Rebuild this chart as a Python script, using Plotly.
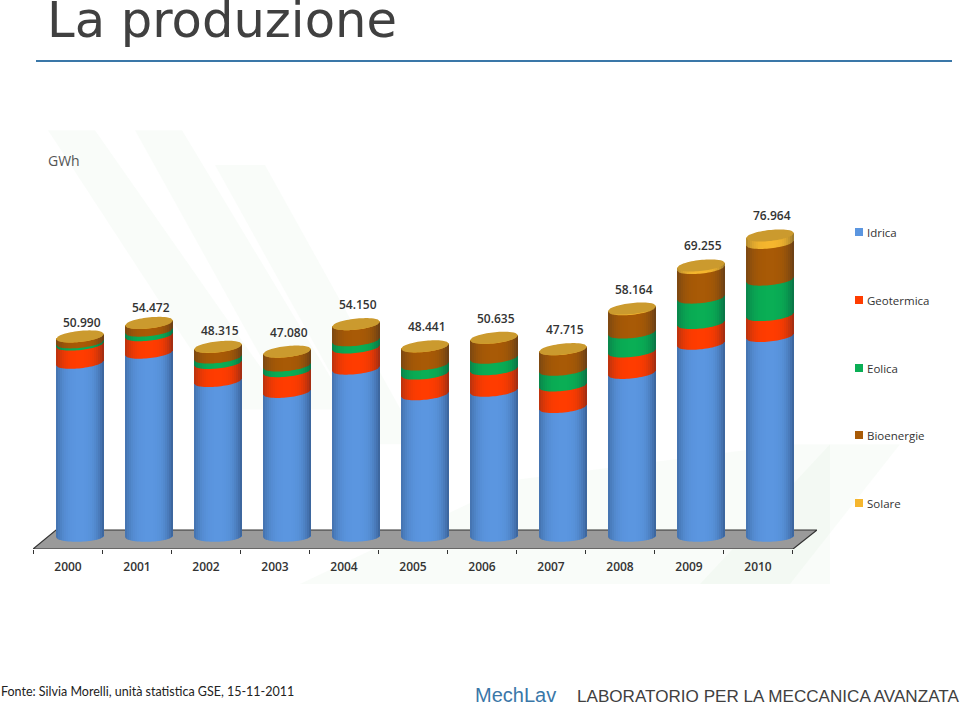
# -*- coding: utf-8 -*-
import numpy as np
import plotly.graph_objects as go

years = list(range(2000, 2011))
idrica = [44200, 46800, 39500, 36700, 42700, 36100, 37000, 32800, 41600, 49100, 51100]
geotermica = [4700, 4500, 4660, 5340, 5440, 5320, 5530, 5570, 5520, 5340, 5380]
eolica = [560, 1180, 1400, 1460, 1850, 2340, 2970, 4030, 4860, 6540, 9130]
bioenergie = [1520, 1980, 2740, 3570, 4150, 4670, 5130, 5275, 5990, 7600, 9450]
solare = [10, 12, 15, 10, 10, 11, 5, 40, 194, 675, 1904]
totali = ['50.990', '54.472', '48.315', '47.080', '54.150', '48.441', '50.635', '47.715', '58.164', '69.255', '76.964']
nomi = ['Idrica', 'Geotermica', 'Eolica', 'Bioenergie', 'Solare']
colori = ['#5b96e0', '#ff3c00', '#0aae55', '#a85a06', '#f5b62e']
serie = [idrica, geotermica, eolica, bioenergie, solare]

# plot area in page pixels
W, H = 960, 703
L, R, T, B = 33, 817, 200, 549
GWH_PX = 0.003885   # px per GWh
Y0_PX = 537
X0_PX = 80
STEP_PX = 69

x_range = [2000 + (L - X0_PX) / STEP_PX, 2000 + (R - X0_PX) / STEP_PX]
y_range = [(Y0_PX - B) / GWH_PX, (Y0_PX - T) / GWH_PX]
A = 24 / STEP_PX      # half width of a cylinder
BH = 5.5 / GWH_PX     # half height of the ellipses
TILT = 5 / GWH_PX     # right side of the ellipses sits higher
BAR_W = 2 * A

# the first labels sit a little closer to their bars
label_nudge = {2000: -6, 2001: -4, 2002: -3}


def dx(px):
    return px / STEP_PX


def dy(px):
    return px / GWH_PX


def px_x(px):
    return (px - L) / (R - L)


def px_y(px):
    return (B - px) / (B - T)


def path(xs, ys):
    pts = ['%.4f,%.1f' % (a, b) for a, b in zip(xs, ys)]
    return 'M' + 'L'.join(pts) + 'Z'


def arc(year, level, tilt, side=-1, n=24, t0=-1.0, t1=1.0):
    t = np.linspace(t0, t1, n)
    xs = year + A * t
    ys = level + tilt * (t + 1) / 2 + side * BH * np.sqrt(np.clip(1 - t * t, 0, 1))
    return xs, ys


def add_text(fig, x, y, text, size, color, family, xanchor='left', yanchor='middle'):
    fig.add_annotation(xref='paper', yref='paper', x=px_x(x), y=px_y(y), text=text, showarrow=False,
                       xanchor=xanchor, yanchor=yanchor, xshift=0, yshift=0,
                       font=dict(size=size, color=color, family=family), borderpad=0)


fig = go.Figure()

for nome, colore, valori in zip(nomi, colori, serie):
    fig.add_trace(go.Bar(x=years, y=valori, name=nome, width=BAR_W, marker_color=colore,
                         marker_line_width=0, showlegend=False))

shapes = []

# faint green wash behind the picture
wash = [
    ([48, 95, 290, 230], [138, 138, 420, 420]),
    ([135, 182, 350, 290], [143, 143, 420, 420]),
    ([215, 265, 420, 370], [150, 150, 430, 430]),
    ([300, 520, 790, 830, 830, 360], [600, 480, 440, 440, 600, 600]),
    ([830, 900, 790, 700], [440, 460, 600, 600]),
]
for xs, ys in wash:
    shapes.append(dict(type='path', xref='paper', yref='paper', layer='below',
                       path=path([px_x(a) for a in xs], [px_y(b) for b in ys]),
                       fillcolor='rgba(170,215,170,0.07)', line_width=0))

# floor of the chart
floor_x = [years[0] + dx(-47), years[-1] + dx(23), years[-1] + dx(47), years[0] + dx(-24)]
floor_y = [y_range[0], y_range[0], dy(7), dy(7)]
shapes.append(dict(type='path', layer='below', xref='x', yref='y', path=path(floor_x, floor_y),
                   fillcolor='#9a9a9a', line=dict(color='#333333', width=1.2)))

for i, year in enumerate(years):
    level = 0
    for s, valori in enumerate(serie):
        top = level + valori[i]
        low_tilt = dy(1.5) if s == 0 else TILT
        xs_low, ys_low = arc(year, level, low_tilt)
        xs = np.concatenate([xs_low, [year + A, year - A]])
        ys = np.concatenate([ys_low, [top + TILT, top]])
        shapes.append(dict(type='path', layer='above', xref='x', yref='y', path=path(xs, ys),
                           fillcolor=colori[s], line_width=0))
        level = top

    # darker sides of the cylinder
    edges = np.linspace(-1, 1, 25)
    for t0, t1 in zip(edges[:-1], edges[1:]):
        mid = (t0 + t1) / 2
        alpha = (0.42 if mid > 0 else 0.30) * abs(mid) ** 3
        xs_low, ys_low = arc(year, 0, dy(1.5), n=4, t0=t0, t1=t1)
        xs = np.concatenate([xs_low, [year + A * t1, year + A * t0]])
        ys = np.concatenate([ys_low, [level + TILT * (t1 + 1) / 2, level + TILT * (t0 + 1) / 2]])
        shapes.append(dict(type='path', layer='above', xref='x', yref='y', path=path(xs, ys),
                           fillcolor='rgba(10,25,50,%.3f)' % alpha, line_width=0))

    # top of the cylinder
    xs_f, ys_f = arc(year, level, TILT)
    xs_b, ys_b = arc(year, level, TILT, side=1)
    shapes.append(dict(type='path', layer='above', xref='x', yref='y',
                       path=path(np.concatenate([xs_f, xs_b[::-1]]), np.concatenate([ys_f, ys_b[::-1]])),
                       fillcolor='#cb9a2e', line_width=0))

    fig.add_annotation(x=year, y=level, text=totali[i], showarrow=False, xshift=2,
                       yshift=22 + label_nudge.get(year, 0), yanchor='middle',
                       font=dict(size=12, color='#333333', family='Open Sans', weight=600))

# legend on the right, spaced as in the slide
legend_y = [232, 300, 368, 435, 503]
for nome, colore, yy in zip(nomi, colori, legend_y):
    shapes.append(dict(type='rect', xref='paper', yref='paper', layer='above',
                       x0=px_x(855), x1=px_x(863), y0=px_y(yy - 4), y1=px_y(yy + 4),
                       fillcolor=colore, line_width=0))
    add_text(fig, 866, yy, nome, 11.5, '#333333', 'Open Sans')

# header
add_text(fig, 46, 20, 'La produzione', 49.6, '#404040', 'DejaVu Sans')
shapes.append(dict(type='line', xref='paper', yref='paper', x0=px_x(36), x1=px_x(952), y0=px_y(61), y1=px_y(61),
                   line=dict(color='#3a77a8', width=2), layer='above'))
add_text(fig, 47, 160, 'GWh', 14, '#555555', 'Open Sans')

# footer
add_text(fig, 0, 691, 'Fonte: Silvia Morelli, unità statistica GSE, 15-11-2011', 12.5, '#222222', 'Lato')
add_text(fig, 474, 695, 'MechLav', 20, '#3a77a8', 'Liberation Sans')
add_text(fig, 576, 696, 'LABORATORIO PER LA MECCANICA AVANZATA', 17.1, '#404040', 'Liberation Sans')

fig.update_layout(
    width=W, height=H,
    margin=dict(l=L, r=W - R, t=T, b=H - B, autoexpand=False),
    barmode='stack',
    shapes=shapes,
    showlegend=False,
    plot_bgcolor='rgba(0,0,0,0)',
    paper_bgcolor='white',
    xaxis=dict(range=x_range, showgrid=False, zeroline=False, showline=False,
               tickmode='array', tickvals=[y - 12 / STEP_PX for y in years], ticktext=[str(y) for y in years],
               ticks='', ticklabelstandoff=9, tickfont=dict(size=12, color='#333333', family='Open Sans', weight=600),
               minor=dict(tickmode='array', tickvals=[y - 1 + 0.333 for y in years + [2011]],
                          ticks='outside', ticklen=4, tickcolor='#333333', tickwidth=1, showgrid=False)),
    yaxis=dict(range=y_range, visible=False, showgrid=False, zeroline=False),
)

fig.write_html("out.html", config={'displayModeBar': False},
               post_script="document.body.style.margin='0';document.body.style.overflow='hidden';")
